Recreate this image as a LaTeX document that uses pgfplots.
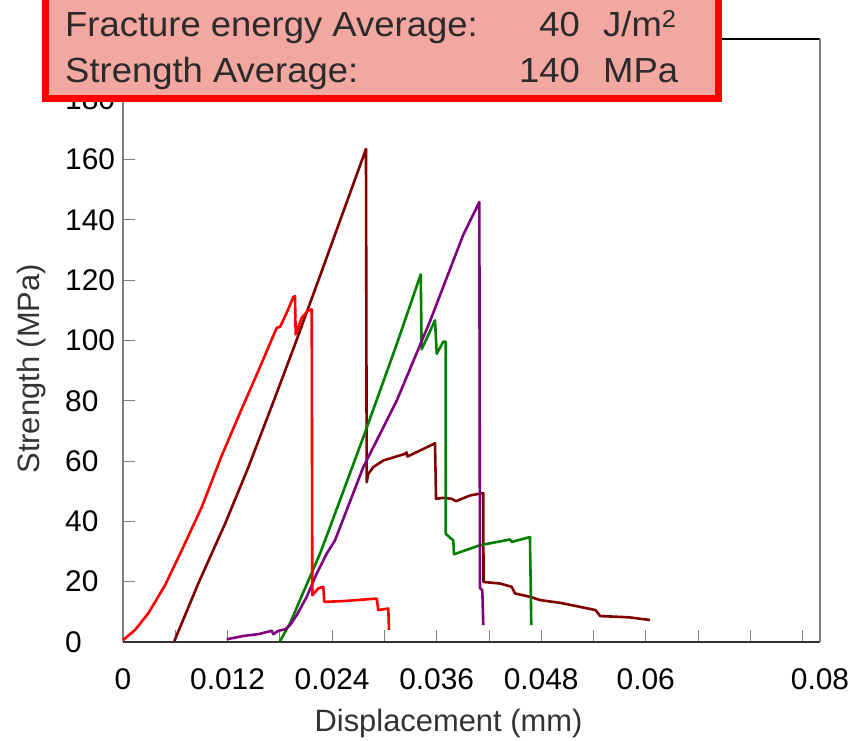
\documentclass[border=0pt]{standalone}
\usepackage{fontspec}
\setmainfont{Liberation Sans}
\newfontfamily\boxfont[FakeStretch=1.045]{Liberation Sans}
\usepackage{pgfplots}
\usepackage{pgfplotstable}
\pgfplotsset{compat=1.18}
\definecolor{cred}{HTML}{FF0000}
\definecolor{cmaroon}{HTML}{800000}
\definecolor{cgreen}{HTML}{008000}
\definecolor{cpurple}{HTML}{800080}
\definecolor{boxfill}{HTML}{F2A7A0}
\definecolor{txtgray}{HTML}{2B2B2B}
\definecolor{lblgray}{HTML}{333333}

% specimen curves, displacement (mm) vs strength (MPa)
\pgfplotstableread{
x y
0.00003 0.7
0.00138 4.0
0.00290 9.5
0.00482 18.8
0.00674 30.4
0.00903 44.7
0.01133 61.8
0.01362 77.3
0.01553 89.9
0.01764 104.2
0.01802 104.5
0.01879 109.2
0.01955 114.4
0.01974 114.7
0.01982 102.0
0.02051 107.5
0.02127 110.0
0.02166 110.3
0.02173 15.5
0.02242 17.8
0.02299 18.3
0.02310 13.3
0.02548 13.6
0.02912 14.4
0.02930 10.6
0.03045 11.1
0.03053 4.0
}\redtab

\pgfplotstableread{
x y
0.00589 0.3
0.00864 19.4
0.01171 39.2
0.01438 57.9
0.01745 81.1
0.01974 98.7
0.02281 123.0
0.02789 163.5
0.02797 53.0
0.02816 55.8
0.02873 58.0
0.02988 60.2
0.03237 62.4
0.03256 62.9
0.03263 61.5
0.03409 63.5
0.03581 65.9
0.03593 47.5
0.03676 47.8
0.03773 47.5
0.03822 46.7
0.03983 48.6
0.04135 49.4
0.04138 19.9
0.04327 19.4
0.04461 18.3
0.04499 16.1
0.04671 15.0
0.04786 13.9
0.05016 13.0
0.05152 12.2
0.05423 10.6
0.05477 8.6
0.05802 8.2
0.06049 7.3
}\maroontab

\pgfplotstableread{
x y
0.01802 0.3
0.01917 6.2
0.02031 13.9
0.02146 21.6
0.02261 29.3
0.02376 38.1
0.02758 67.9
0.03141 98.7
0.03417 121.9
0.03428 97.1
0.03486 100.7
0.03581 106.7
0.03601 95.6
0.03676 99.6
0.03704 99.6
0.03704 35.9
0.03753 34.6
0.03791 33.7
0.03799 29.1
0.04098 32.1
0.04442 34.0
0.04462 33.2
0.04671 34.8
0.04686 5.6
}\greentab

\pgfplotstableread{
x y
0.01190 0.9
0.01381 2.0
0.01553 2.6
0.01707 3.7
0.01725 2.6
0.01783 3.7
0.01859 4.2
0.01917 5.6
0.01994 8.9
0.02109 15.0
0.02223 22.7
0.02338 29.3
0.02433 33.7
0.02758 58.0
0.03141 80.0
0.03524 106.4
0.03906 135.1
0.04090 145.9
0.04097 17.9
0.04124 17.2
0.04135 5.6
}\purpletab

\begin{document}
\begin{tikzpicture}[x=1bp,y=1bp]
\useasboundingbox (0,0) rectangle (865,741);
\begin{axis}[
  at={(123bp,99bp)}, anchor=south west,
  scale only axis, width=697bp, height=603bp,
  xmin=0, xmax=0.08, ymin=0, ymax=200,
  scaled ticks=false,
  xtick={0,0.012,0.024,0.036,0.048,0.06,0.08},
  xticklabels={0,0.012,0.024,0.036,0.048,0.06,0.08},
  minor xtick={0.006,0.018,0.03,0.042,0.054,0.066,0.072,0.078},
  ytick={0,20,...,180},
  xtick pos=bottom, ytick pos=left, tick align=inside,
  major tick length=12bp, minor tick length=12bp,
  tick style={gray, line width=0.8bp},
  axis line style={draw=none},
  tick label style={font=\fontsize{30}{36}\selectfont, inner sep=0pt},
  /pgf/number format/assume math mode=true,
  xticklabel style={anchor=north, yshift=-26bp},
  yticklabel style={anchor=west, xshift=-58bp},
  clip=false,
]
  \draw[gray, line width=2bp] (rel axis cs:0,0) -- (rel axis cs:0,1);
  \draw[black!80, line width=2bp] (rel axis cs:0,0) -- (rel axis cs:1,0);
  \draw[black, line width=1.2bp] (rel axis cs:0,1) -- (rel axis cs:1,1);
  \draw[gray, line width=1.6bp] (rel axis cs:1,0) -- (rel axis cs:1,1);

  \addplot[cmaroon, line width=2.6bp, line join=round] table {\maroontab};
  \addplot[cgreen, line width=2.6bp, line join=round] table {\greentab};
  \addplot[cpurple, line width=2.6bp, line join=round] table {\purpletab};
  \addplot[cred, line width=2.6bp, line join=round] table {\redtab};

  \node[anchor=base, inner sep=0pt, text=lblgray, font=\fontsize{31}{37}\selectfont]
    at ([yshift=-90bp]axis description cs:0.467,0) {Displacement (mm)};
  \node[rotate=90, anchor=base, inner sep=0pt, text=lblgray, font=\fontsize{31}{37}\selectfont]
    at ([xshift=-83.5bp]axis description cs:0,0.453) {Strength (MPa)};
\end{axis}

% stats box, its top edge runs off the picture
\fill[boxfill] (42,639) rectangle (722,741);
\draw[red, line width=7bp] (45.5,741) -- (45.5,642.5) -- (718.5,642.5) -- (718.5,741);
\begin{scope}[every node/.style={inner sep=0pt, text=txtgray, font=\boxfont\fontsize{35}{42}\selectfont}]
  \node[anchor=base west] at (65,704) {Fracture energy Average:};
  \node[anchor=base east] at (580,704) {40};
  \node[anchor=base west] at (603,704) {J/m\textsuperscript{2}};
  \node[anchor=base west] at (65,658) {Strength Average:};
  \node[anchor=base east] at (580,658) {140};
  \node[anchor=base west] at (603,658) {MPa};
\end{scope}
\end{tikzpicture}
\end{document}
